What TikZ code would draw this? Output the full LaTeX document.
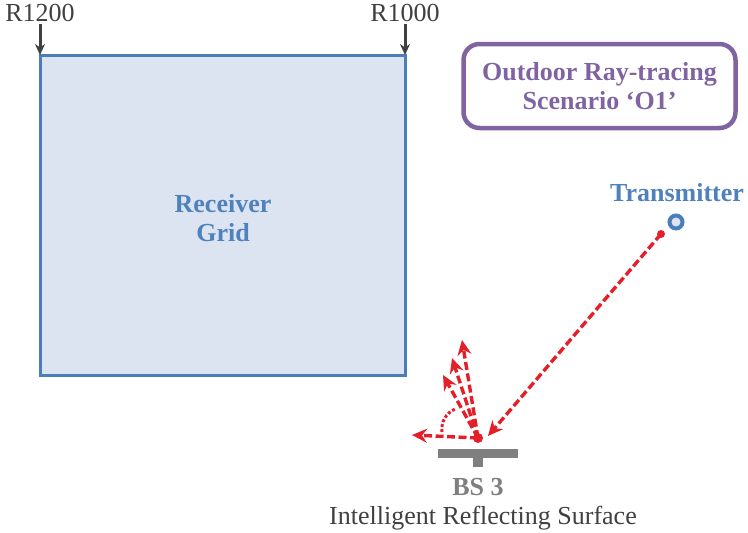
\documentclass[tikz,border=0pt]{standalone}
\usepackage{fontspec}
\setmainfont{Liberation Serif}
\usetikzlibrary{positioning,arrows.meta}

\definecolor{gridblue}{HTML}{4A7EBB}
\definecolor{gridfill}{HTML}{DCE4F1}
\definecolor{txtblue}{HTML}{4F81BD}
\definecolor{scenpurple}{HTML}{8064A2}
\definecolor{rayred}{HTML}{E3202A}
\definecolor{irsgray}{HTML}{7F7F7F}
\definecolor{labgray}{HTML}{404040}

\tikzset{
  ray/.style={rayred, line width=3.4pt, dash pattern=on 8pt off 3.5pt, -{Stealth[length=15pt,width=14pt,inset=5pt,sep=0pt]}},
  marker/.style={labgray, line width=3pt, -{Stealth[length=11pt,width=10pt]}},
  bigtxt/.style={font=\fontsize{26}{29}\selectfont\bfseries, align=center},
  plaintxt/.style={font=\fontsize{26}{29}\selectfont, text=labgray}
}

\begin{document}
\begin{tikzpicture}[x=1pt,y=-1pt]
  \useasboundingbox (0,0) rectangle (748,533);

  % Receiver grid
  \draw[gridblue, line width=3pt, fill=gridfill] (40,55) rectangle (405,375);
  \node[bigtxt, text=txtblue] (grid) at (223,218) {Receiver\\Grid};

  % Row markers
  \node[plaintxt] (r1200) at (40,13) {R1200};
  \node[plaintxt] (r1000) at (405,13) {R1000};
  \coordinate (g1) at (40,55);
  \coordinate (g2) at (405,55);
  \draw[marker] (40,24) -- (g1);
  \draw[marker] (405,24) -- (g2);

  % Scenario box
  \node[bigtxt, text=scenpurple, draw=scenpurple, line width=4.5pt, rounded corners=16pt,
        minimum width=272pt, minimum height=84pt] (scen) at (599.5,86) {Outdoor Ray-tracing\\Scenario ‘O1’};

  % Transmitter
  \node[bigtxt, text=txtblue] (txlab) at (677,193) {Transmitter};
  \node[circle, draw=gridblue, fill=gridfill, line width=4pt, minimum size=13pt, inner sep=0pt] (tx) at (676,222) {};

  % Rays
  \coordinate (src) at (661,234);
  \coordinate (hit) at (478,438);
  \coordinate (inc) at (488,436);
  \fill[rayred] (src) circle (4pt);
  \draw[ray] (src) -- (inc);
  \fill[rayred] (hit) circle (5pt);
  \foreach \x/\y in {462/340, 452/358, 443/375, 412/435} {
    \draw[ray] (hit) -- (\x,\y);
  }
  \draw[rayred, line width=3pt, dotted] (442,432) to[bend left=35] (455,409);

  % Intelligent reflecting surface
  \fill[irsgray] (438,449) rectangle (518,458);
  \fill[irsgray] (473,458) rectangle (483,467);
  \node[bigtxt, text=irsgray] (bs) at (478,487) {BS 3};
  \node[plaintxt] (irs) at (483,518) {Intelligent Reflecting Surface};
\end{tikzpicture}
\end{document}
